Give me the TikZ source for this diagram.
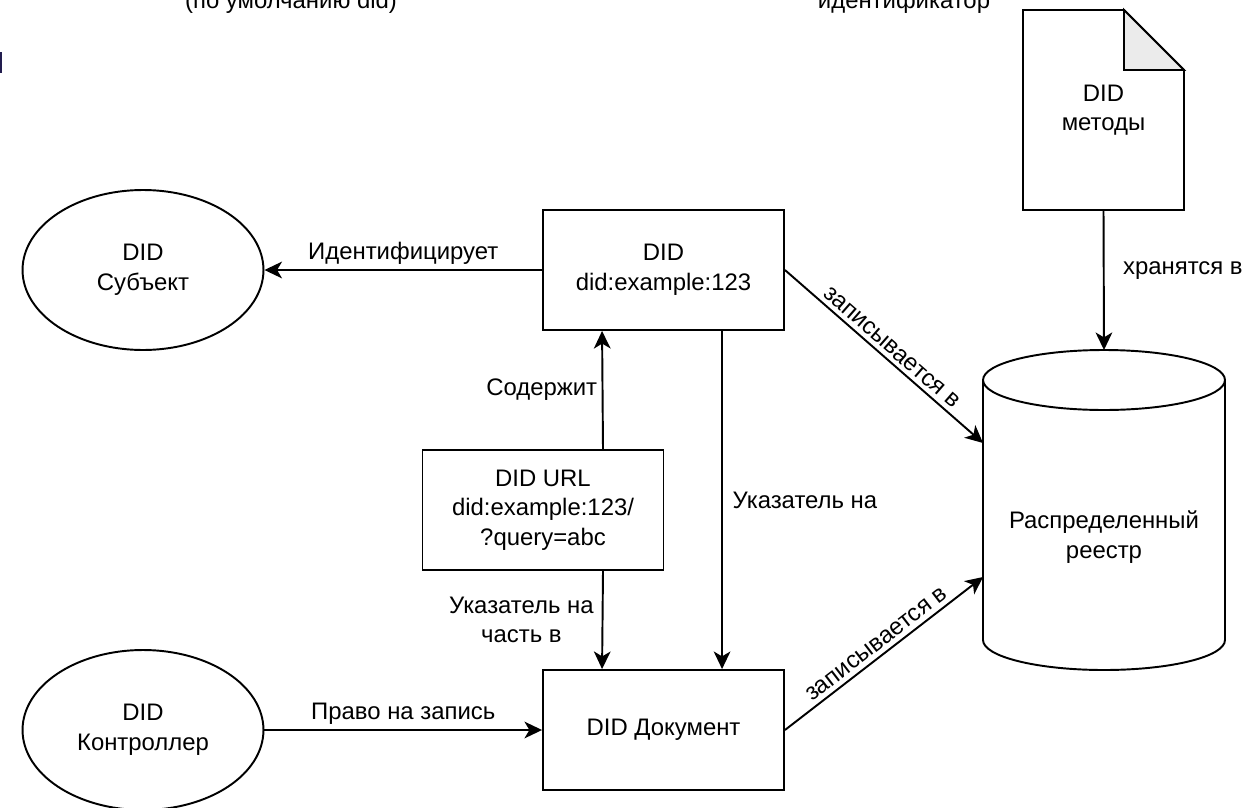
\documentclass[tikz,border=0pt]{standalone}
\usepackage{fontspec}
\setmainfont{Liberation Sans}
\usetikzlibrary{arrows.meta,shapes.geometric,calc}
\definecolor{foldgray}{HTML}{EBEBEB}
\definecolor{barnavy}{HTML}{221D4F}

\begin{document}
\begin{tikzpicture}[x=0.02cm,y=-0.02cm,
  every node/.style={font=\fontsize{13.6}{16.8}\selectfont,align=center},
  box/.style={draw,line width=1.1pt,minimum width=4.82cm,minimum height=2.4cm},
  oval/.style={draw,ellipse,line width=1.1pt,minimum width=4.82cm,minimum height=3.2cm},
  arr/.style={line width=1.1pt,-{Stealth[length=10pt,width=9.5pt,inset=2.8pt]}},
  lbl/.style={inner sep=2.5pt},
  outline/.style={line width=1.1pt}]
\useasboundingbox (0,0) rectangle (1258,808);
\clip (0,0) rectangle (1258,808);

\node[anchor=base] (dflt) at (291,9) {(по умолчанию did)};
\node[anchor=base] (ident) at (904,9) {идентификатор};
\fill[barnavy] (0,52) rectangle (2.5,73);

\node[oval] (subj) at (143,270) {DID\\Субъект};
\node[box] (did) at (663.5,270) {DID\\did:example:123};
\node[box] (url) at (543,510) {DID URL\\did:example:123/\\?query=abc};
\node[box] (doc) at (663.5,730) {DID Документ};
\node[oval] (ctrl) at (143,730) {DID\\Контроллер};

% document with folded corner
\node[minimum width=3.22cm,minimum height=4cm,outer sep=0pt] (meth) at (1103.5,110) {DID\\методы};
\draw[outline] (meth.north west) -- ($(meth.north east)+(-60,0)$) -- ($(meth.north east)+(0,60)$)
  -- (meth.south east) -- (meth.south west) -- cycle;
\draw[outline,fill=foldgray] ($(meth.north east)+(-60,0)$) -- ($(meth.north east)+(-60,60)$)
  -- ($(meth.north east)+(0,60)$) -- cycle;

% cylinder
\node[minimum width=4.84cm,minimum height=6.4cm,outer sep=0pt] (ledger) at (1104,510) {};
\node (ledgertext) at (1104,537) {Распределенный\\реестр};
\draw[outline] (983,380) -- (983,640) .. controls (983,656.6) and (1037.2,670) .. (1104,670)
  .. controls (1170.8,670) and (1225,656.6) .. (1225,640) -- (1225,380);
\draw[outline] (1104,380) ellipse [x radius=2.42cm,y radius=0.6cm];

\draw[arr] (did.west) -- (subj.east) node[lbl,midway,above] {Идентифицирует};
\draw[arr] ($(url.north)+(60,0)$) -- ($(did.south west)+(60,0)$) node[lbl,midway,left] {Содержит};
\draw[arr] ($(url.south)+(60,0)$) -- ($(doc.north west)+(60,0)$) node[lbl,midway,left,xshift=-2pt] {Указатель на\\часть в};
\draw[arr] ($(did.south west)+(180,0)$) -- ($(doc.north west)+(180,0)$) node[lbl,midway,right,xshift=3pt] {Указатель на};
\draw[arr] (ctrl.east) -- (doc.west) node[lbl,midway,above] {Право на запись};
\draw[arr] (did.east) -- ($(ledger.west)+(0,-67)$) node[lbl,midway,above,sloped] {записывается в};
\draw[arr] (doc.east) -- ($(ledger.west)+(0,67)$) node[lbl,midway,above,sloped] {записывается в};
\draw[arr] (meth.south) -- (ledger.north) node[lbl,pos=0.43,right,xshift=8pt] {хранятся в};
\end{tikzpicture}
\end{document}
